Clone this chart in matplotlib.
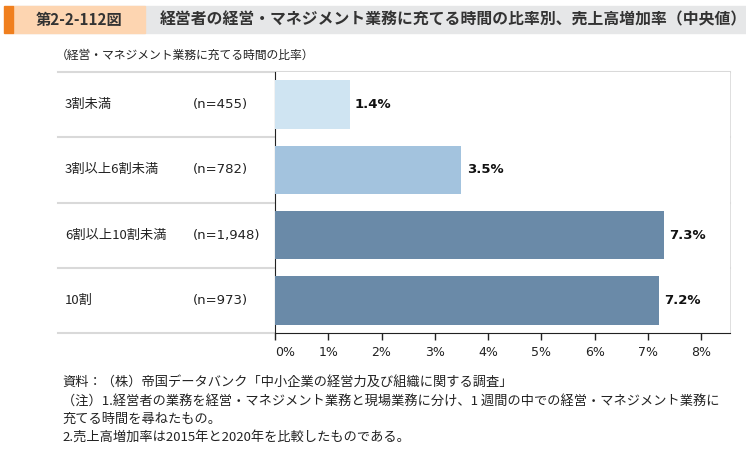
import matplotlib
matplotlib.use("Agg")
import matplotlib.pyplot as plt
from matplotlib.patches import Rectangle
from matplotlib.lines import Line2D

plt.rcParams['font.family'] = ['Noto Sans CJK JP', 'DejaVu Sans']

categories = ["3割未満", "3割以上6割未満", "6割以上10割未満", "10割"]
n_labels = ["(n=455)", "(n=782)", "(n=1,948)", "(n=973)"]
values = [1.4, 3.5, 7.3, 7.2]
colors = ["#cfe4f2", "#a3c3de", "#6a8aa8", "#6a8aa8"]
xticks = [0, 1, 2, 3, 4, 5, 6, 7, 8]
xtick_labels = ["0%", "1%", "2%", "3%", "4%", "5%", "6%", "7%", "8%"]

W, H = 746, 457
fig = plt.figure(figsize=(W / 100, H / 100), dpi=100)

def fx(px):
    return px / W

def fy(py):
    return 1 - py / H

# Title bar
fig.patches.append(Rectangle((fx(13), fy(33)), fx(746 - 13), (33 - 6) / H,
                             transform=fig.transFigure, color="#e6e7e8", zorder=0))
fig.patches.append(Rectangle((fx(13), fy(33)), fx(145 - 13), (33 - 6) / H,
                             transform=fig.transFigure, color="#fdd5b1", zorder=1))
fig.patches.append(Rectangle((fx(4), fy(33)), fx(9), (33 - 6) / H,
                             transform=fig.transFigure, color="#f07f1e", zorder=2))
fig.text(fx(79), fy(19.5), "第2-2-112図", ha="center", va="center",
         fontsize=11, fontweight="bold", color="#333333")
fig.text(fx(160), fy(19.5), "経営者の経営・マネジメント業務に充てる時間の比率別、売上高増加率（中央値）",
         ha="left", va="center", fontsize=11.4, fontweight="bold", color="#333333")

fig.text(fx(56), fy(55), "（経営・マネジメント業務に充てる時間の比率）", ha="left", va="center",
         fontsize=8.5, color="#222222")

ax_left, ax_right, ax_top, ax_bottom = 275, 730, 72, 333
ax = fig.add_axes([fx(ax_left), fy(ax_bottom), fx(ax_right - ax_left), (ax_bottom - ax_top) / H])

y = list(range(len(categories)))
ax.barh(y, values, height=0.74, color=colors, zorder=3)
ax.set_ylim(len(categories) - 0.5, -0.5)
ax.set_xlim(0, 8.54)
for yi, v in zip(y, values):
    ax.text(v + 0.1, yi, f"{v:.1f}%", ha="left", va="center", fontsize=9.5,
            fontweight="bold", family="DejaVu Sans", color="#111111")

ax.set_xticks(xticks)
ax.set_xticklabels(xtick_labels, family="DejaVu Sans", fontsize=9, color="#222222")
ax.get_xticklabels()[0].set_ha("left")
ax.set_yticks([])
ax.tick_params(axis="x", direction="out", length=5, width=1, color="#222222", pad=4)
for s in ["top", "right"]:
    ax.spines[s].set_visible(False)
ax.spines["left"].set_color("#222222")
ax.spines["bottom"].set_color("#222222")

# Row separators across the label area and plot
row_h = (ax_bottom - ax_top) / len(categories)
for i in range(len(categories) + 1):
    yy = ax_top + i * row_h
    if i == len(categories):
        fig.add_artist(Line2D([fx(58), fx(ax_left)], [fy(yy), fy(yy)], color="#d9d9d9", lw=1.5, zorder=0))
    else:
        fig.add_artist(Line2D([fx(58), fx(ax_right)], [fy(yy), fy(yy)], color="#d9d9d9", lw=1.5, zorder=0))
fig.add_artist(Line2D([fx(ax_right), fx(ax_right)], [fy(ax_top), fy(ax_bottom)], color="#d9d9d9", lw=1.2, zorder=0))

for i, (c, n) in enumerate(zip(categories, n_labels)):
    yy = ax_top + (i + 0.5) * row_h
    fig.text(fx(65), fy(yy), c, ha="left", va="center", fontsize=9.5, color="#222222")
    fig.text(fx(193), fy(yy), n, ha="left", va="center", fontsize=9.5, color="#222222",
             family="DejaVu Sans")

notes = [
    (62, 383, "資料：（株）帝国データバンク「中小企業の経営力及び組織に関する調査」"),
    (62, 401, "（注）1.経営者の業務を経営・マネジメント業務と現場業務に分け、1 週間の中での経営・マネジメント業務に"),
    (62, 419, "充てる時間を尋ねたもの。"),
    (62, 437, "2.売上高増加率は2015年と2020年を比較したものである。"),
]
for x0, y0, t in notes:
    fig.text(fx(x0), fy(y0), t, ha="left", va="center", fontsize=9.5, color="#222222")

fig.savefig("out.png", dpi=100)
